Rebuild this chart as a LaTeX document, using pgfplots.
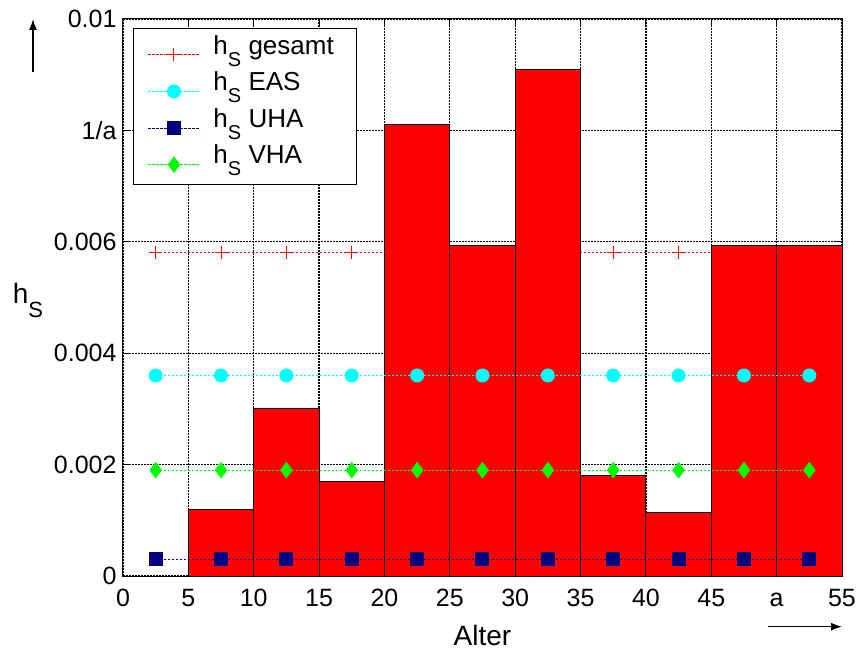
\documentclass[border=0pt]{standalone}
\usepackage{pgfplots}
\pgfplotsset{compat=1.18}
\usetikzlibrary{arrows.meta}
\usepackage{fontspec}
\setmainfont{Liberation Sans}
\newcommand{\hs}{h\raisebox{-12bp}{\fontsize{20bp}{22bp}\selectfont S}}
\newcommand{\hsl}{h\raisebox{-14bp}{\fontsize{22bp}{24bp}\selectfont S}}
\definecolor{mnavy}{rgb}{0,0,0.5}
\definecolor{mred}{rgb}{1,0,0}
\definecolor{mcyan}{rgb}{0,1,1}
\definecolor{mgreen}{rgb}{0,1,0}
\begin{document}
\begin{tikzpicture}
\useasboundingbox (-123bp,-75bp) rectangle (734bp,576bp);
\begin{axis}[
  at={(0,0)}, anchor=south west,
  scale only axis, width=719bp, height=557bp,
  xmin=0, xmax=55, ymin=0, ymax=0.01,
  xtick={0,5,...,55},
  xticklabels={0,5,10,15,20,25,30,35,40,45,a,55},
  ytick={0,0.002,0.004,0.006,0.008,0.01},
  yticklabels={0,0.002,0.004,0.006,1/a,0.01},
  scaled y ticks=false,
  grid=major,
  major grid style={black, dash pattern=on 2bp off 1bp, line width=1.3bp},
  tick align=inside, major tick length=6bp,
  tick style={black, line width=1bp},
  axis line style={black, line width=1bp},
  /pgf/number format/assume math mode=true,
  tick label style={font=\fontsize{25bp}{30bp}\selectfont},
  xticklabel style={anchor=base, yshift=-30.5bp},
  yticklabel style={xshift=-3bp},
  xlabel={Alter},
  ylabel={\hsl},
  every axis x label/.style={at={(axis description cs:0.5,0)}, anchor=base, yshift=-69bp, font=\fontsize{28bp}{32bp}\selectfont},
  every axis y label/.style={at={(axis description cs:-0.158,0.49)}, anchor=base west, font=\fontsize{28bp}{32bp}\selectfont},
  legend cell align=left,
  legend image code/.code={
    \path[draw=none, fill=none] (0bp,0bp) -- (80bp,0bp);
    \draw[mark repeat=2,mark phase=2] plot coordinates {(15bp,-3.5bp) (40.5bp,-3.5bp) (66bp,-3.5bp)};},
  legend style={at={(axis description cs:0.0139,0.9847)}, anchor=north west,
    draw=black, line width=1bp, fill=white,
    font=\fontsize{26bp}{30bp}\selectfont,
    inner xsep=0bp, inner ysep=5bp, row sep=0bp, column sep=0bp,
    nodes={inner sep=0bp, text height=21bp, text depth=15.6bp}},
]
\addplot[ybar interval, fill=mred, draw=black, line width=1bp, forget plot]
  coordinates {(0,0) (5,0.0012) (10,0.003) (15,0.0017) (20,0.0081) (25,0.00594) (30,0.0091) (35,0.0018) (40,0.00114) (45,0.00594) (50,0.00593) (55,0.00593)};
\addplot[mred, dash pattern=on 2.5bp off 1.5bp, line width=1bp, mark=+, mark size=6.5bp, mark options={solid, draw=mred}]
  coordinates {(2.5,0.0058) (7.5,0.0058) (12.5,0.0058) (17.5,0.0058) (22.5,0.0058) (27.5,0.0058) (32.5,0.0058) (37.5,0.0058) (42.5,0.0058) (47.5,0.0058) (52.5,0.0058)};
\addlegendentry{\hs\ gesamt\kern23bp}
\addplot[mcyan, dash pattern=on 2.5bp off 1.5bp, line width=1bp, mark=*, mark size=6.5bp, mark options={solid, fill=mcyan, draw=mcyan}]
  coordinates {(2.5,0.0036) (7.5,0.0036) (12.5,0.0036) (17.5,0.0036) (22.5,0.0036) (27.5,0.0036) (32.5,0.0036) (37.5,0.0036) (42.5,0.0036) (47.5,0.0036) (52.5,0.0036)};
\addlegendentry{\hs\ EAS}
\addplot[mnavy, dash pattern=on 2.5bp off 1.5bp, line width=1bp, mark=square*, mark size=6.5bp, mark options={solid, fill=mnavy, draw=mnavy}]
  coordinates {(2.5,0.0003) (7.5,0.0003) (12.5,0.0003) (17.5,0.0003) (22.5,0.0003) (27.5,0.0003) (32.5,0.0003) (37.5,0.0003) (42.5,0.0003) (47.5,0.0003) (52.5,0.0003)};
\addlegendentry{\hs\ UHA}
\addplot[mgreen, dash pattern=on 2.5bp off 1.5bp, line width=1bp, mark=diamond*, mark size=7.5bp, mark options={solid, fill=mgreen, draw=mgreen}]
  coordinates {(2.5,0.0019) (7.5,0.0019) (12.5,0.0019) (17.5,0.0019) (22.5,0.0019) (27.5,0.0019) (32.5,0.0019) (37.5,0.0019) (42.5,0.0019) (47.5,0.0019) (52.5,0.0019)};
\addlegendentry{\hs\ VHA}
\end{axis}
\draw[-{Latex[length=11bp,width=8bp]}, line width=1.5bp] (-90bp,504bp) -- (-90bp,557bp);
\draw[-{Latex[length=11bp,width=8bp]}, line width=1.5bp] (645bp,-50.7bp) -- (719bp,-50.7bp);
\end{tikzpicture}
\end{document}
